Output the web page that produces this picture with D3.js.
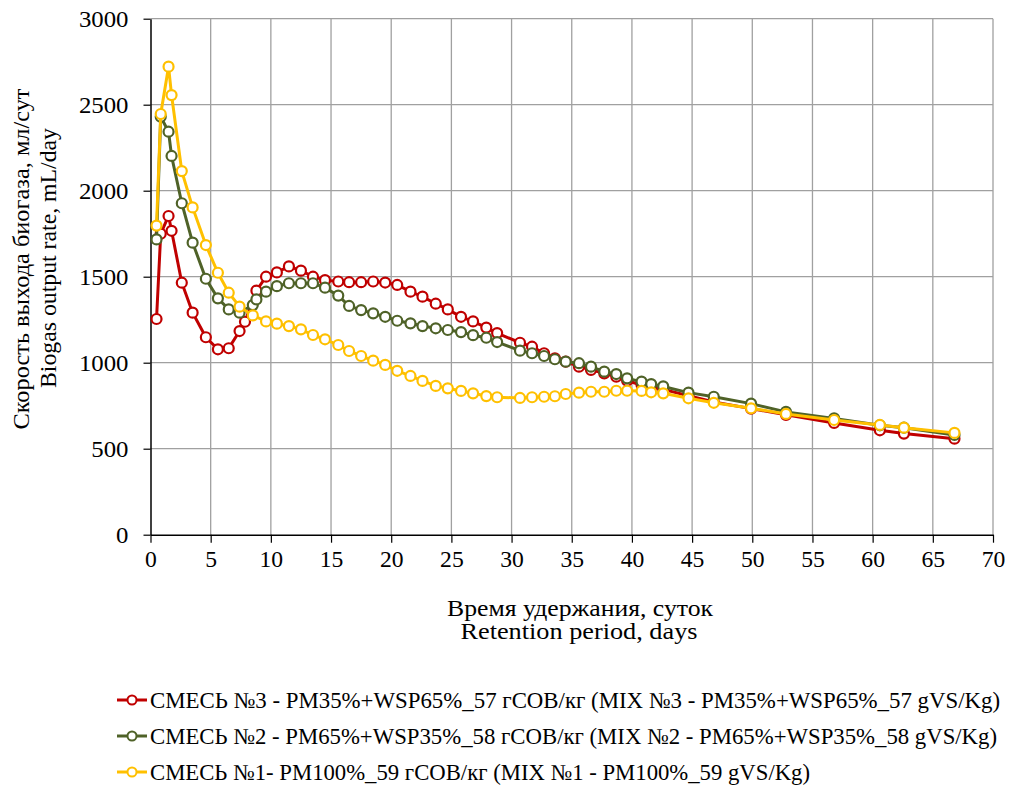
<html>

<head>
  <title>Biogas output rate</title>
  <script src="https://d3js.org/d3.v7.min.js"></script>
  <style>
    body { margin: 0; background: #ffffff; }
  </style>
</head>

<body>
  <svg width="1014" height="785"></svg>
  <script>
    // retention period, days (shared x values)
    var days = [0.5, 0.85, 1.5, 1.75, 2.6, 3.5, 4.6, 5.6, 6.5, 7.4, 7.85, 8.5, 8.8, 9.6, 10.5, 11.5, 12.5, 13.5,
      14.5, 15.6, 16.5, 17.5, 18.5, 19.5, 20.5, 21.6, 22.6, 23.7, 24.7, 25.8, 26.8, 27.9, 28.8, 30.7, 31.7, 32.7,
      33.6, 34.5, 35.6, 36.6, 37.7, 38.7, 39.6, 40.8, 41.6, 42.6, 44.7, 46.8, 49.9, 52.8, 56.8, 60.6, 62.6, 66.8];

    // MIX 3 - PM35%+WSP65%
    var mix3 = [1254, 1750, 1853, 1767, 1465, 1291, 1148, 1078, 1084, 1184, 1238, null, 1419, 1500, 1525, 1560, 1535, 1500,
      1480, 1472, 1468, 1468, 1472, 1466, 1452, 1413, 1384, 1343, 1310, 1267, 1240, 1204, 1172, 1116, 1093, 1055,
      1026, 1006, 977, 958, 938, 919, 895, 870, 857, 845, 808, 772, 733, 697, 650, 607, 588, 558];

    // MIX 2 - PM65%+WSP35%
    var mix2 = [1717, 2430, 2343, 2202, 1927, 1698, 1488, 1374, 1310, 1291, null, 1335, 1368, 1413, 1445, 1462, 1462, 1462,
      1436, 1390, 1330, 1306, 1287, 1267, 1244, 1229, 1213, 1200, 1190, 1178, 1160, 1145, 1120, 1070, 1055, 1039,
      1020, 1006, 997, 977, 948, 934, 909, 890, 876, 862, 826, 802, 762, 714, 676, 636, 622, 580];

    // MIX 1 - PM100%
    var mix1 = [1797, 2446, 2721, 2556, 2114, 1903, 1684, 1523, 1407, 1326, null, 1275, null, 1240, 1227, 1213, 1194, 1161,
      1136, 1103, 1068, 1039, 1012, 987, 953, 923, 894, 865, 851, 836, 822, 806, 799, 795, 799, 802,
      805, 818, 826, 831, 831, 837, 837, 836, 828, 822, 793, 767, 735, 702, 667, 638, 622, 592];

    var xTicks = [0, 5, 10, 15, 20, 25, 30, 35, 40, 45, 50, 55, 60, 65, 70];
    var yTicks = [0, 500, 1000, 1500, 2000, 2500, 3000];

    var seriesNames = [
      "СМЕСЬ №3 - PM35%+WSP65%_57 гСОВ/кг (MIX №3 - PM35%+WSP65%_57 gVS/Kg)",
      "СМЕСЬ №2 - PM65%+WSP35%_58 гСОВ/кг (MIX №2 - PM65%+WSP35%_58 gVS/Kg)",
      "СМЕСЬ №1- PM100%_59 гСОВ/кг (MIX №1 - PM100%_59 gVS/Kg)"
    ];
    var seriesValues = [mix3, mix2, mix1];
    var colors = ["#c00000", "#4f6228", "#ffc000"];

    var serif = "'Liberation Serif', 'Times New Roman', 'DejaVu Serif', serif";

    var svg = d3.select("svg");

    var x = d3.scaleLinear().domain([0, 70]).range([150.5, 993]);
    var y = d3.scaleLinear().domain([0, 3000]).range([534.7, 18.7]);

    // gridlines
    svg.append("g")
      .selectAll("line")
      .data(xTicks.slice(1))
      .enter()
      .append("line")
      .attr("x1", function(d) { return x(d); })
      .attr("x2", function(d) { return x(d); })
      .attr("y1", y(0))
      .attr("y2", y(3000))
      .attr("stroke", "#a0a0a0")
      .attr("stroke-width", 1.3);

    svg.append("g")
      .selectAll("line")
      .data(yTicks.slice(1))
      .enter()
      .append("line")
      .attr("x1", x(0))
      .attr("x2", x(70))
      .attr("y1", function(d) { return y(d); })
      .attr("y2", function(d) { return y(d); })
      .attr("stroke", "#a0a0a0")
      .attr("stroke-width", 1.3);

    // axes
    var xAxis = svg.append("g")
      .attr("transform", "translate(0," + y(0) + ")")
      .call(d3.axisBottom(x).tickValues(xTicks).tickFormat(d3.format("d"))
        .tickSize(8).tickPadding(8).tickSizeOuter(0));
    xAxis.select(".domain").attr("stroke", "#000").attr("stroke-width", 1.5);
    xAxis.selectAll(".tick line").attr("stroke", "#000").attr("stroke-width", 1.2);
    xAxis.selectAll("text")
      .attr("font-size", "23px")
      .attr("textLength", function(d) { return String(d).length * 11.8; })
      .attr("lengthAdjust", "spacingAndGlyphs");

    var yAxis = svg.append("g")
      .attr("transform", "translate(" + x(0) + ",0)")
      .call(d3.axisLeft(y).tickValues(yTicks).tickFormat(d3.format("d"))
        .tickSize(7).tickPadding(15).tickSizeOuter(0));
    yAxis.select(".domain").attr("stroke", "#000").attr("stroke-width", 1.5);
    yAxis.selectAll(".tick line").attr("stroke", "#000").attr("stroke-width", 1.2);
    yAxis.selectAll("text")
      .attr("font-size", "23px")
      .attr("textLength", function(d) { return String(d).length * 12.4; })
      .attr("lengthAdjust", "spacingAndGlyphs");

    // axis titles
    svg.append("text")
      .attr("x", 580)
      .attr("y", 616)
      .attr("text-anchor", "middle")
      .attr("font-size", "23px")
      .attr("textLength", 266)
      .attr("lengthAdjust", "spacingAndGlyphs")
      .text("Время удержания, суток");
    svg.append("text")
      .attr("x", 579)
      .attr("y", 639)
      .attr("text-anchor", "middle")
      .attr("font-size", "23px")
      .attr("textLength", 237)
      .attr("lengthAdjust", "spacingAndGlyphs")
      .text("Retention period, days");

    svg.append("text")
      .attr("transform", "translate(29,259) rotate(-90)")
      .attr("text-anchor", "middle")
      .attr("font-size", "23px")
      .attr("textLength", 341)
      .attr("lengthAdjust", "spacingAndGlyphs")
      .text("Скорость выхода биогаза, мл/сут");
    svg.append("text")
      .attr("transform", "translate(56,258) rotate(-90)")
      .attr("text-anchor", "middle")
      .attr("font-size", "23px")
      .attr("textLength", 260)
      .attr("lengthAdjust", "spacingAndGlyphs")
      .text("Biogas output rate, mL/day");

    // series
    var line = d3.line()
      .x(function(d) { return x(d[0]); })
      .y(function(d) { return y(d[1]); });

    seriesValues.forEach(function(vals, i) {
      var pts = days.map(function(d, j) { return [d, vals[j]]; })
        .filter(function(p) { return p[1] != null; });

      svg.append("path")
        .datum(pts)
        .attr("d", line)
        .attr("fill", "none")
        .attr("stroke", colors[i])
        .attr("stroke-width", 3);

      svg.append("g")
        .selectAll("circle")
        .data(pts)
        .enter()
        .append("circle")
        .attr("cx", function(d) { return x(d[0]); })
        .attr("cy", function(d) { return y(d[1]); })
        .attr("r", 5)
        .attr("fill", "#fff")
        .attr("stroke", colors[i])
        .attr("stroke-width", 2.2);
    });

    // legend
    var legendWidths = [850, 847, 660];
    var legend = svg.append("g");
    seriesNames.forEach(function(name, i) {
      var ly = 700 + i * 36;
      legend.append("line")
        .attr("x1", 117)
        .attr("x2", 147)
        .attr("y1", ly)
        .attr("y2", ly)
        .attr("stroke", colors[i])
        .attr("stroke-width", 3);
      legend.append("circle")
        .attr("cx", 132)
        .attr("cy", ly)
        .attr("r", 4.5)
        .attr("fill", "#fff")
        .attr("stroke", colors[i])
        .attr("stroke-width", 2);
      legend.append("text")
        .attr("x", 150)
        .attr("y", ly + 8)
        .attr("font-size", "23px")
        .attr("textLength", legendWidths[i])
        .attr("lengthAdjust", "spacingAndGlyphs")
        .text(name);
    });

    svg.selectAll("text")
      .style("font-family", serif)
      .style("fill", "#000");
  </script>
</body>

</html>
